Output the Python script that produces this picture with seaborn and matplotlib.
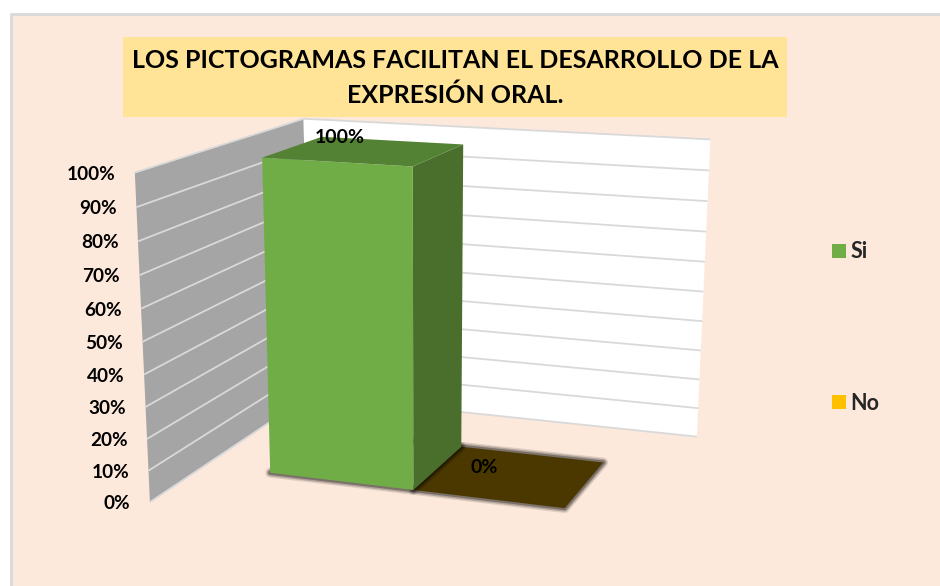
import numpy as np
import matplotlib
matplotlib.use("Agg")
import matplotlib.pyplot as plt
from matplotlib.patches import Polygon, Rectangle, Patch
import seaborn as sns

series = ["Si", "No"]
values = [100, 0]
tick_values = [0, 10, 20, 30, 40, 50, 60, 70, 80, 90, 100]
title = "LOS PICTOGRAMAS FACILITAN EL DESARROLLO DE LA\nEXPRESIÓN ORAL."
front_colors = ["#70AD47", "#FFC000"]
top_colors = ["#548235", "#4A3800"]
side_colors = ["#4A6F2C", "#4A3800"]

# empty space round the bars, as a share of the floor
gap_x = 0.16
gap_y = 0.31


def fit_camera():
    # 3d frame (x, depth, value, all 0-1) against where it lands in the picture
    g, d = gap_x, gap_y
    world = [(0, 1, 1), (1, 1, 1), (1, 1, 0), (0, 1, 0), (0, 0, 1), (0, 0, 0),
             (g, d, 1), (.5, d, 1), (.5, d, 0), (g, d, 0),
             (.5, 1 - d, 1), (g, 1 - d, 1), (.5, 1 - d, 0), (1 - g, 1 - d, 0), (1 - g, d, 0)]
    pix = [(303, 120), (710, 139), (697, 437), (309, 396), (135, 172), (149, 501),
           (264, 158), (413, 167), (413, 492), (271, 473),
           (465, 144), (319, 136), (463, 446), (603, 461), (563, 509)]
    rows, rhs = [], []
    for (x, y, z), (u, v) in zip(world, pix):
        rows.append([x, y, z, 1, 0, 0, 0, 0, -u * x, -u * y, -u * z])
        rhs.append(u)
        rows.append([0, 0, 0, 0, x, y, z, 1, -v * x, -v * y, -v * z])
        rhs.append(v)
    p = np.linalg.lstsq(np.array(rows), np.array(rhs), rcond=None)[0]
    return np.append(p, 1).reshape(3, 4)


cam = fit_camera()


def project(pts):
    pts = np.atleast_2d(pts)
    h = cam @ np.c_[pts, np.ones(len(pts))].T
    return (h[:2] / h[2]).T


sns.set_theme(style="white")
plt.rcParams["font.family"] = ["Lato", "DejaVu Sans"]
fig = plt.figure(figsize=(9.4, 5.86), dpi=100, facecolor="white")
ax = fig.add_axes([0, 0, 1, 1])
ax.set_xlim(0, 940)
ax.set_ylim(586, 0)
ax.axis("off")

# seaborn gives the bar rectangles, faces are projected from them
ax_bar = fig.add_axes([0, 0, 1, 1])
pad = 2 * gap_x / (1 - 2 * gap_x)
sns.barplot(x=series, y=values, hue=series, palette=front_colors, width=1, legend=False, ax=ax_bar)
ax_bar.set_xlim(-0.5 - pad, 1.5 + pad)
ax_bar.set_ylim(0, 100)
ax_bar.set_visible(False)

ax.add_patch(Rectangle((11, 14), 960, 600, fc="#FDE9DB", ec="#D9D9D9", lw=2))
ax.add_patch(Rectangle((123, 37), 664, 80, fc="#FFE497", ec="none"))
ax.text(455, 78, title, ha="center", va="center", fontsize=18, fontweight="bold", color="black", linespacing=1.55)


def face(pts, **kw):
    ax.add_patch(Polygon(project(pts), closed=True, **kw))


# walls
face([(0, 0, 0), (0, 1, 0), (0, 1, 1), (0, 0, 1)], fc="#A5A5A5", ec="none")
face([(0, 1, 0), (1, 1, 0), (1, 1, 1), (0, 1, 1)], fc="white", ec="none")
for t in tick_values:
    z = t / 100
    line = project([(0, 0, z), (0, 1, z), (1, 1, z)])
    ax.plot(line[:, 0], line[:, 1], color="#D9D9D9", lw=1.3, solid_capstyle="butt", zorder=1)
    ax.text(line[0, 0] - 19.5, line[0, 1] + 1.5, f"{t}%", ha="right", va="center", fontsize=13.7, fontweight="bold", color="black")

# bars, back to front
label_offsets = [(18, 1), (23, 21)]
for i in reversed(range(len(series))):
    r = ax_bar.patches[i]
    x0, z0 = ax_bar.transLimits.transform((r.get_x(), 0))
    x1, z1 = ax_bar.transLimits.transform((r.get_x() + r.get_width(), r.get_height()))
    y0, y1 = gap_y, 1 - gap_y
    floor = [(x0, y0, 0), (x1, y0, 0), (x1, y1, 0), (x0, y1, 0)]
    for lw, a in [(7, 0.12), (5, 0.2), (3, 0.3)]:
        face(floor, fc="none", ec="black", alpha=a, lw=lw, joinstyle="round")
    face([(x1, y0, z0), (x1, y1, z0), (x1, y1, z1), (x1, y0, z1)], fc=side_colors[i], ec="none")
    face([(x0, y0, z0), (x1, y0, z0), (x1, y0, z1), (x0, y0, z1)], fc=front_colors[i], ec="none")
    face([(x0, y0, z1), (x1, y0, z1), (x1, y1, z1), (x0, y1, z1)], fc=top_colors[i], ec="none")
    px, py = project([(x0, y1, z1)])[0]
    ax.text(px + label_offsets[i][0], py + label_offsets[i][1], f"{values[i]}%", ha="center", va="center",
            fontsize=14, fontweight="bold", color="black")

handles = [Patch(fc=c, ec="none") for c in front_colors]
ax.legend(handles, series, loc="upper left", bbox_to_anchor=(0.885, 0.588), frameon=False, handlelength=0.65, handleheight=0.65,
          handletextpad=0.2, labelspacing=6.05, prop={"size": 15.5, "weight": "bold"}, borderpad=0, borderaxespad=0)

fig.savefig("out.png", dpi=100)
